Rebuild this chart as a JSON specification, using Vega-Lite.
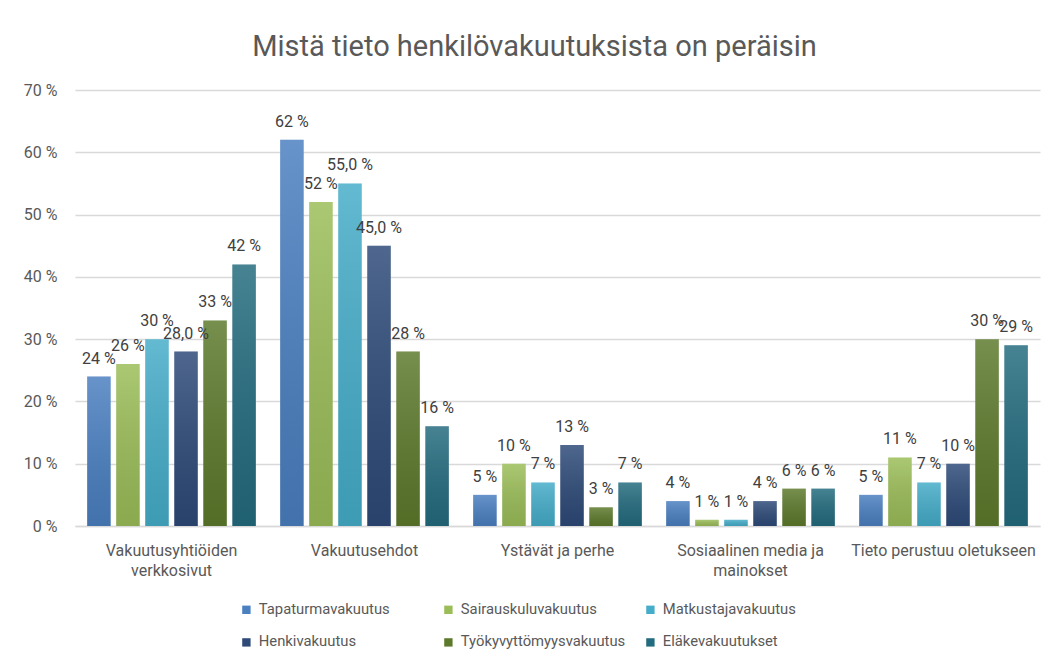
{
  "$schema": "https://vega.github.io/schema/vega-lite/v6.json",
  "width": 965,
  "height": 436,
  "autosize": {"type": "none"},
  "padding": {"left": 75, "top": 90, "right": 8, "bottom": 136},
  "background": "white",
  "config": {"font": "Roboto", "view": {"stroke": null}},
  "title": {"text": "Mistä tieto henkilövakuutuksista on peräisin", "fontSize": 29, "fontWeight": "normal", "color": "#595959", "offset": 20, "dx": -23, "anchor": "middle"},
  "data": {"values": [
    {"kategoria": "Vakuutusyhtiöiden verkkosivut", "vakuutus": "Tapaturmavakuutus", "osuus": 24, "label": "24 %"},
    {"kategoria": "Vakuutusyhtiöiden verkkosivut", "vakuutus": "Sairauskuluvakuutus", "osuus": 26, "label": "26 %"},
    {"kategoria": "Vakuutusyhtiöiden verkkosivut", "vakuutus": "Matkustajavakuutus", "osuus": 30, "label": "30 %"},
    {"kategoria": "Vakuutusyhtiöiden verkkosivut", "vakuutus": "Henkivakuutus", "osuus": 28, "label": "28,0 %"},
    {"kategoria": "Vakuutusyhtiöiden verkkosivut", "vakuutus": "Työkyvyttömyysvakuutus", "osuus": 33, "label": "33 %"},
    {"kategoria": "Vakuutusyhtiöiden verkkosivut", "vakuutus": "Eläkevakuutukset", "osuus": 42, "label": "42 %"},
    {"kategoria": "Vakuutusehdot", "vakuutus": "Tapaturmavakuutus", "osuus": 62, "label": "62 %"},
    {"kategoria": "Vakuutusehdot", "vakuutus": "Sairauskuluvakuutus", "osuus": 52, "label": "52 %"},
    {"kategoria": "Vakuutusehdot", "vakuutus": "Matkustajavakuutus", "osuus": 55, "label": "55,0 %"},
    {"kategoria": "Vakuutusehdot", "vakuutus": "Henkivakuutus", "osuus": 45, "label": "45,0 %"},
    {"kategoria": "Vakuutusehdot", "vakuutus": "Työkyvyttömyysvakuutus", "osuus": 28, "label": "28 %"},
    {"kategoria": "Vakuutusehdot", "vakuutus": "Eläkevakuutukset", "osuus": 16, "label": "16 %"},
    {"kategoria": "Ystävät ja perhe", "vakuutus": "Tapaturmavakuutus", "osuus": 5, "label": "5 %"},
    {"kategoria": "Ystävät ja perhe", "vakuutus": "Sairauskuluvakuutus", "osuus": 10, "label": "10 %"},
    {"kategoria": "Ystävät ja perhe", "vakuutus": "Matkustajavakuutus", "osuus": 7, "label": "7 %"},
    {"kategoria": "Ystävät ja perhe", "vakuutus": "Henkivakuutus", "osuus": 13, "label": "13 %"},
    {"kategoria": "Ystävät ja perhe", "vakuutus": "Työkyvyttömyysvakuutus", "osuus": 3, "label": "3 %"},
    {"kategoria": "Ystävät ja perhe", "vakuutus": "Eläkevakuutukset", "osuus": 7, "label": "7 %"},
    {"kategoria": "Sosiaalinen media ja mainokset", "vakuutus": "Tapaturmavakuutus", "osuus": 4, "label": "4 %"},
    {"kategoria": "Sosiaalinen media ja mainokset", "vakuutus": "Sairauskuluvakuutus", "osuus": 1, "label": "1 %"},
    {"kategoria": "Sosiaalinen media ja mainokset", "vakuutus": "Matkustajavakuutus", "osuus": 1, "label": "1 %"},
    {"kategoria": "Sosiaalinen media ja mainokset", "vakuutus": "Henkivakuutus", "osuus": 4, "label": "4 %"},
    {"kategoria": "Sosiaalinen media ja mainokset", "vakuutus": "Työkyvyttömyysvakuutus", "osuus": 6, "label": "6 %"},
    {"kategoria": "Sosiaalinen media ja mainokset", "vakuutus": "Eläkevakuutukset", "osuus": 6, "label": "6 %"},
    {"kategoria": "Tieto perustuu oletukseen", "vakuutus": "Tapaturmavakuutus", "osuus": 5, "label": "5 %"},
    {"kategoria": "Tieto perustuu oletukseen", "vakuutus": "Sairauskuluvakuutus", "osuus": 11, "label": "11 %"},
    {"kategoria": "Tieto perustuu oletukseen", "vakuutus": "Matkustajavakuutus", "osuus": 7, "label": "7 %"},
    {"kategoria": "Tieto perustuu oletukseen", "vakuutus": "Henkivakuutus", "osuus": 10, "label": "10 %"},
    {"kategoria": "Tieto perustuu oletukseen", "vakuutus": "Työkyvyttömyysvakuutus", "osuus": 30, "label": "30 %"},
    {"kategoria": "Tieto perustuu oletukseen", "vakuutus": "Eläkevakuutukset", "osuus": 29, "label": "29 %"}
  ]},
  "encoding": {
    "x": {
      "field": "kategoria", "type": "nominal", "sort": null,
      "scale": {"paddingInner": 0.126, "paddingOuter": 0.063},
      "axis": {
        "title": null, "labelAngle": 0, "ticks": false, "domain": true, "domainColor": "#d9d9d9", "domainWidth": 1.5,
        "labelFontSize": 16, "labelColor": "#595959", "labelPadding": 16, "labelLineHeight": 20, "labelLimit": 0,
        "labelExpr": "datum.value == 'Vakuutusyhtiöiden verkkosivut' ? ['Vakuutusyhtiöiden', 'verkkosivut'] : datum.value == 'Sosiaalinen media ja mainokset' ? ['Sosiaalinen media ja', 'mainokset'] : datum.value"
      }
    },
    "xOffset": {
      "field": "vakuutus", "type": "nominal",
      "sort": ["Tapaturmavakuutus", "Sairauskuluvakuutus", "Matkustajavakuutus", "Henkivakuutus", "Työkyvyttömyysvakuutus", "Eläkevakuutukset"],
      "scale": {"paddingInner": 0.19, "paddingOuter": 0}
    },
    "y": {
      "field": "osuus", "type": "quantitative",
      "scale": {"domain": [0, 70], "nice": false},
      "axis": {
        "title": null, "values": [0, 10, 20, 30, 40, 50, 60, 70], "domain": false, "ticks": false,
        "grid": true, "gridColor": "#d9d9d9", "gridWidth": 1.5,
        "labelFontSize": 16, "labelColor": "#595959", "labelPadding": 18,
        "labelExpr": "datum.value + ' %'"
      }
    }
  },
  "layer": [
    {
      "mark": {"type": "bar"},
      "encoding": {
        "color": {
          "field": "vakuutus", "type": "nominal",
          "sort": ["Tapaturmavakuutus", "Sairauskuluvakuutus", "Matkustajavakuutus", "Henkivakuutus", "Työkyvyttömyysvakuutus", "Eläkevakuutukset"],
          "scale": {"range": ["#4a7fc0", "#9bbd58", "#45adc9", "#2d4a78", "#5d7a2c", "#236b7e"]},
          "legend": {
            "title": null, "orient": "none", "legendX": 164, "legendY": 512, "direction": "horizontal", "columns": 3,
            "gridAlign": "all", "columnPadding": 17, "rowPadding": 17,
            "symbolType": "square", "symbolSize": 70, "symbolStrokeWidth": 0, "symbolOffset": 0,
            "labelFontSize": 14.8, "labelColor": "#595959", "labelOffset": 5, "labelLimit": 0
          }
        }
      }
    },
    {
      "mark": {"type": "bar", "color": {"gradient": "linear", "x1": 0, "y1": 0, "x2": 0, "y2": 1, "stops": [{"offset": 0, "color": "rgba(255,255,255,0.16)"}, {"offset": 1, "color": "rgba(0,0,0,0.1)"}]}}
    },
    {
      "mark": {"type": "text", "baseline": "middle", "dy": -18, "fontSize": 16, "color": "#404040"},
      "encoding": {"text": {"field": "label"}}
    }
  ]
}
